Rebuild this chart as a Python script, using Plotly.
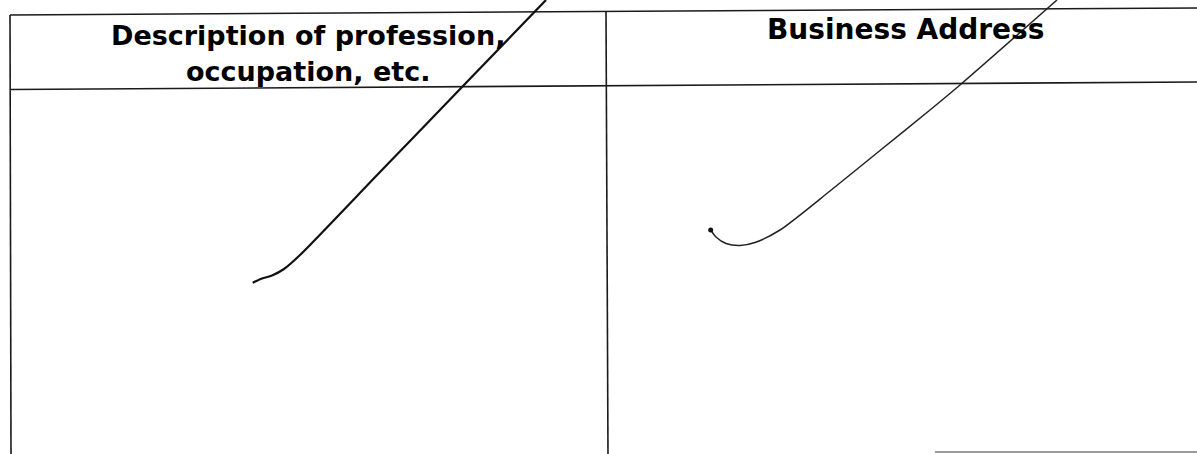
"""Scanned form header: two-column table with hand-drawn strike lines."""

import plotly.graph_objects as go

# --- data (page pixel coordinates, y grows downward) ---
header_left_lines = ["Description of profession,", "occupation, etc."]
header_right = "Business Address"

# table rulings, slightly skewed as on the scan
rule_top_x = [10, 1197]
rule_top_y = [15, 8]
rule_head_x = [10, 1197]
rule_head_y = [89.5, 82]
rule_left_x = [10, 11]
rule_left_y = [15, 454]
rule_mid_x = [606, 608]
rule_mid_y = [11, 454]
rule_foot_x = [935, 1197]
rule_foot_y = [452, 452]

# hand-drawn strike in the left column
stroke_a_x = [252.7, 262, 272, 284, 300, 380, 463, 546]
stroke_a_y = [282.7, 278.5, 275.5, 269, 255, 172, 86, 0]

# hand-drawn strike in the right column
stroke_b_x = [710.7, 716, 726, 740, 755, 780, 830, 880, 930, 960, 1057]
stroke_b_y = [230, 237, 243.5, 245.5, 242.5, 230, 191, 150.5, 110, 85, 0]

fig = go.Figure()

rules = [
    (rule_top_x, rule_top_y),
    (rule_head_x, rule_head_y),
    (rule_left_x, rule_left_y),
    (rule_mid_x, rule_mid_y),
]
for xs, ys in rules:
    fig.add_trace(go.Scatter(
        x=xs, y=ys, mode="lines",
        line=dict(color="#1a1a1a", width=1.6),
        hoverinfo="skip", showlegend=False,
    ))

fig.add_trace(go.Scatter(
    x=rule_foot_x, y=rule_foot_y, mode="lines",
    line=dict(color="#9a9a9a", width=2),
    hoverinfo="skip", showlegend=False,
))

fig.add_trace(go.Scatter(
    x=stroke_a_x, y=stroke_a_y, mode="lines",
    line=dict(color="#111111", width=2.2, shape="spline", smoothing=0.7),
    hoverinfo="skip", showlegend=False,
))
fig.add_trace(go.Scatter(
    x=stroke_b_x, y=stroke_b_y, mode="lines",
    line=dict(color="#222222", width=1.5, shape="spline", smoothing=0.7),
    hoverinfo="skip", showlegend=False,
))
# small ink blob where the right stroke starts
fig.add_trace(go.Scatter(
    x=stroke_b_x[:1], y=stroke_b_y[:1], mode="markers",
    marker=dict(color="#111111", size=5),
    hoverinfo="skip", showlegend=False,
))

head_font = dict(family="DejaVu Sans", color="#000000")
fig.add_annotation(x=308, y=35.5, text="<b>%s</b>" % header_left_lines[0],
                   showarrow=False, font=dict(size=27, **head_font),
                   xanchor="center", yanchor="middle")
fig.add_annotation(x=308, y=71.5, text="<b>%s</b>" % header_left_lines[1],
                   showarrow=False, font=dict(size=27, **head_font),
                   xanchor="center", yanchor="middle")
fig.add_annotation(x=905, y=29.5, text="<b>%s</b>" % header_right,
                   showarrow=False, font=dict(size=28, **head_font),
                   xanchor="center", yanchor="middle")

fig.update_layout(
    width=1197,
    height=454,
    margin=dict(l=0, r=0, t=0, b=0),
    paper_bgcolor="white",
    plot_bgcolor="white",
    xaxis=dict(range=[0, 1197], visible=False, fixedrange=True),
    yaxis=dict(range=[454, 0], visible=False, fixedrange=True),
    showlegend=False,
)

# drop the browser's default body margin so the figure fills the window
fig.write_html(
    "out.html",
    config=dict(displayModeBar=False),
    post_script="document.body.style.margin='0';document.body.style.overflow='hidden';",
)
